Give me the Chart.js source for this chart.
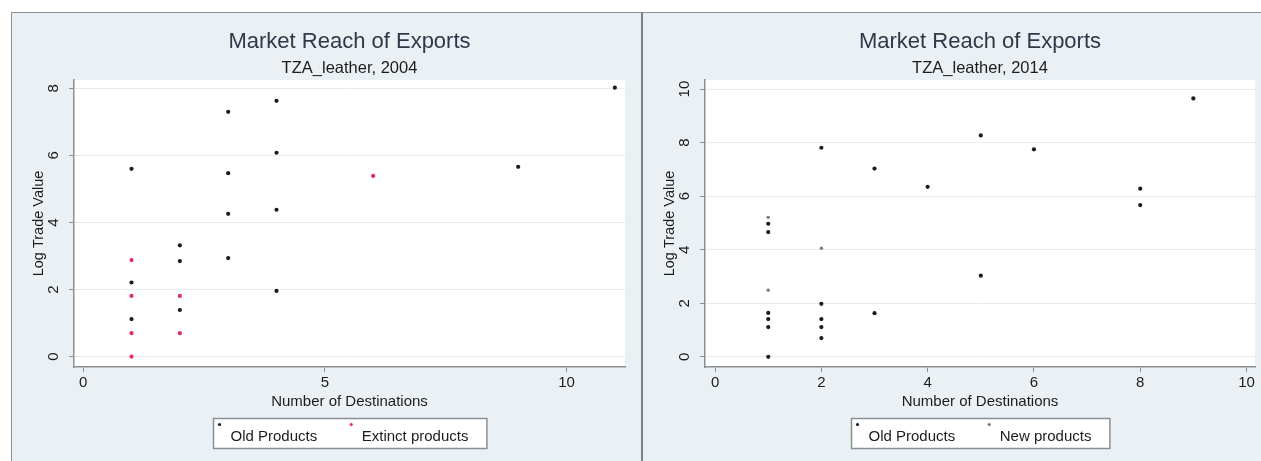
<!DOCTYPE html>
<html>
<head>
<meta charset="utf-8">
<title>Market Reach of Exports</title>
<script src="https://cdn.jsdelivr.net/npm/chart.js@4.4.1/dist/chart.umd.min.js"></script>
<style>
  html, body { margin: 0; padding: 0; background: #ffffff; }
  #page { position: relative; width: 1261px; height: 461px; overflow: hidden; background: #ffffff; }
  .panel { position: absolute; top: 12px; height: 449px; box-sizing: border-box;
           background: #eaf0f3; border-top: 1px solid #8e9194; }
  #panel2004 { left: 11px; width: 632px; border-left: 1px solid #8e9194; border-right: 2px solid #7c7f82; }
  #panel2014 { left: 643px; width: 618px; }
  canvas { position: absolute; left: 0; top: 0; }
</style>
</head>
<body>
<div id="page">
  <div class="panel" id="panel2004"><canvas id="chart2004" width="629" height="448"></canvas></div>
  <div class="panel" id="panel2014"><canvas id="chart2014" width="618" height="448"></canvas></div>
</div>
<script>
// ---- 2004: number of destinations vs. log trade value ----
const destinations2004Old = [1, 1, 1, 2, 2, 2, 3, 3, 3, 3, 4, 4, 4, 4, 9, 11];
const logValue2004Old     = [5.60, 2.21, 1.12, 3.32, 2.85, 1.39, 7.30, 5.47, 4.26, 2.94, 7.63, 6.08, 4.38, 1.96, 5.66, 8.02];
const destinations2004Extinct = [1, 1, 1, 1, 2, 2, 6];
const logValue2004Extinct     = [2.88, 1.81, 0.70, 0.00, 1.81, 0.70, 5.39];

// ---- 2014 ----
const destinations2014Old = [1, 1, 1, 1, 1, 1, 2, 2, 2, 2, 2, 3, 3, 4, 5, 5, 6, 8, 8, 9];
const logValue2014Old     = [4.97, 4.66, 1.64, 1.41, 1.11, 0.00, 7.81, 1.98, 1.41, 1.11, 0.70, 7.03, 1.63, 6.35, 8.27, 3.03, 7.75, 6.28, 5.67, 9.65];
const destinations2014New = [1, 1, 2];
const logValue2014New     = [5.21, 2.49, 4.06];

// ---- axis ticks ----
const xTicks2004 = [0, 5, 10];
const yTicks2004 = [0, 2, 4, 6, 8];
const xTicks2014 = [0, 2, 4, 6, 8, 10];
const yTicks2014 = [0, 2, 4, 6, 8, 10];

const FONT = '"Liberation Sans", Arial, Helvetica, sans-serif';
const AXIS_GRAY = '#8a8f94';
const TEXT = '#1c1c1c';

function toPoints(xs, ys) {
  return xs.map((x, i) => ({ x: x, y: ys[i] }));
}

// White plot region behind the marks, titles and the boxed legend on top.
const panelDecor = {
  id: 'panelDecor',
  beforeDraw(chart) {
    const { ctx, chartArea: a } = chart;
    ctx.save();
    ctx.fillStyle = '#ffffff';
    ctx.fillRect(a.left, a.top, a.right - a.left, a.bottom - a.top);
    ctx.restore();
  },
  afterDraw(chart, args, opts) {
    const { ctx, chartArea: a } = chart;
    const cx = (a.left + a.right) / 2;
    ctx.save();
    ctx.textAlign = 'center';
    ctx.textBaseline = 'middle';
    ctx.fillStyle = '#313848';
    ctx.font = '22px ' + FONT;
    ctx.fillText(opts.title, cx, opts.titleY);
    ctx.fillStyle = TEXT;
    ctx.font = '16.5px ' + FONT;
    ctx.fillText(opts.subtitle, cx, opts.subtitleY);

    // legend box
    ctx.font = '15px ' + FONT;
    const ds = chart.data.datasets;
    const w = ds.map(d => ctx.measureText(d.label).width);
    const boxW = 6 + 11 + w[0] + 34 + 10.5 + w[1] + 18.5;
    const bx = Math.round(cx - boxW / 2) + 0.5;
    const by = opts.legendTop + 0.5;
    const bh = 30;
    ctx.fillStyle = '#ffffff';
    ctx.fillRect(bx, by, boxW, bh);
    ctx.strokeStyle = AXIS_GRAY;
    ctx.lineWidth = 1.5;
    ctx.strokeRect(bx, by, boxW, bh);
    let x = bx + 6;
    ds.forEach((d, i) => {
      ctx.fillStyle = d.backgroundColor;
      ctx.beginPath();
      ctx.arc(x, by + 6, 1.6, 0, Math.PI * 2);
      ctx.fill();
      const tx = x + (i === 0 ? 11 : 10.5);
      ctx.fillStyle = TEXT;
      ctx.textAlign = 'left';
      ctx.fillText(d.label, tx, by + 18);
      x = tx + w[i] + 34;
    });
    ctx.restore();
  }
};

function makePanel(canvasId, p) {
  return new Chart(document.getElementById(canvasId), {
    type: 'scatter',
    data: {
      datasets: [
        { label: 'Old Products', data: toPoints(p.oldX, p.oldY),
          backgroundColor: '#1b1b24', borderWidth: 0, pointRadius: 2.1 },
        { label: p.secondLabel, data: toPoints(p.secondX, p.secondY),
          backgroundColor: p.secondColor, borderWidth: 0, pointRadius: p.secondRadius }
      ]
    },
    options: {
      responsive: false,
      animation: false,
      devicePixelRatio: 1,
      layout: { padding: { top: 67, left: 0, right: p.padRight, bottom: 50 } },
      plugins: {
        legend: { display: false },
        tooltip: { enabled: false },
        panelDecor: { title: 'Market Reach of Exports', subtitle: p.subtitle,
                      titleY: 29, subtitleY: 55, legendTop: 405 }
      },
      scales: {
        x: {
          type: 'linear', position: 'bottom', min: p.xMin, max: p.xMax,
          afterBuildTicks: s => { s.ticks = p.xTicks.map(v => ({ value: v })); },
          afterFit: s => { s.height = 44; },
          ticks: { font: { family: FONT, size: 15 }, color: TEXT, padding: 2,
                   maxRotation: 0, autoSkip: false },
          grid: { drawOnChartArea: false, tickLength: 5, tickColor: AXIS_GRAY, tickWidth: 1 },
          border: { color: AXIS_GRAY, width: 1.5 },
          title: { display: true, text: 'Number of Destinations',
                   font: { family: FONT, size: 15 }, color: TEXT, padding: 0 }
        },
        y: {
          type: 'linear', position: 'left', min: p.yMin, max: p.yMax,
          afterBuildTicks: s => { s.ticks = p.yTicks.map(v => ({ value: v })); },
          afterFit: s => { s.width = 62; },
          ticks: { font: { family: FONT, size: 15 }, color: TEXT, padding: p.yTickPad,
                   minRotation: 90, maxRotation: 90, crossAlign: 'center', autoSkip: false },
          grid: { color: '#e6ecef', lineWidth: 1, tickLength: 5, tickColor: AXIS_GRAY, tickWidth: 1 },
          border: { color: AXIS_GRAY, width: 1.5 },
          title: { display: true, text: 'Log Trade Value',
                   font: { family: FONT, size: 14.5 }, color: TEXT, padding: { top: 18, bottom: 0 } }
        }
      }
    },
    plugins: [panelDecor]
  });
}

makePanel('chart2004', {
  subtitle: 'TZA_leather, 2004',
  oldX: destinations2004Old, oldY: logValue2004Old,
  secondLabel: 'Extinct products', secondX: destinations2004Extinct, secondY: logValue2004Extinct,
  secondColor: '#e2305e', secondRadius: 2.1,
  xMin: -0.19, xMax: 11.21, yMin: -0.31, yMax: 8.25,
  xTicks: xTicks2004, yTicks: yTicks2004,
  padRight: 16, yTickPad: 11
});

makePanel('chart2014', {
  subtitle: 'TZA_leather, 2014',
  oldX: destinations2014Old, oldY: logValue2014Old,
  secondLabel: 'New products', secondX: destinations2014New, secondY: logValue2014New,
  secondColor: '#7a7a7e', secondRadius: 1.7,
  xMin: -0.19, xMax: 10.16, yMin: -0.38, yMax: 10.34,
  xTicks: xTicks2014, yTicks: yTicks2014,
  padRight: 6, yTickPad: 7
});
</script>
</body>
</html>
